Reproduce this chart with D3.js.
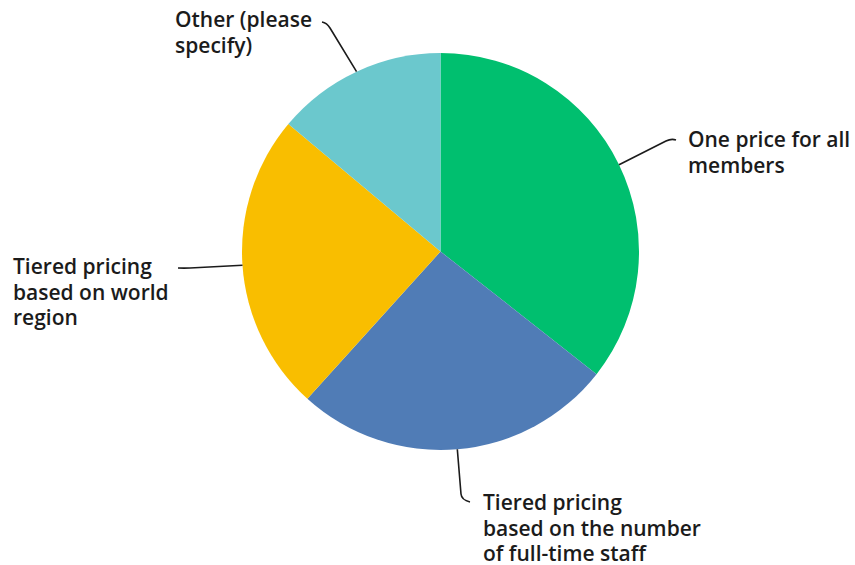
<!DOCTYPE html>
<html>
<head>
<meta charset="utf-8">
<script src="https://cdn.jsdelivr.net/npm/d3@7"></script>
<style>
  html, body { margin: 0; padding: 0; background: #fff; }
  svg { display: block; }
  text { font-family: "Open Sans", sans-serif; font-weight: 600; font-size: 21px; fill: #1b1b1b; }
</style>
</head>
<body>
<svg id="chart" width="855" height="565"></svg>
<script>
// Answer categories, in clockwise order from 12 o'clock
const categories = [
  "One price for all members",
  "Tiered pricing based on the number of full-time staff",
  "Tiered pricing based on world region",
  "Other (please specify)"
];
// Share of responses (%)
const values = [35.6, 26.1, 24.4, 13.9];
// Wrapped label lines for each slice
const labelLines = [
  ["One price for all", "members"],
  ["Tiered pricing", "based on the number", "of full-time staff"],
  ["Tiered pricing", "based on world", "region"],
  ["Other (please", "specify)"]
];
const colors = ["#00BF6F", "#507CB6", "#F9BE00", "#6BC8CD"];

const svg = d3.select("#chart");
const cx = 440.5, cy = 251.5, r = 198.5;
const g = svg.append("g").attr("transform", `translate(${cx},${cy})`);

const pie = d3.pie().sort(null).value(d => d.value);
const arcs = pie(categories.map((c, i) => ({ name: c, value: values[i], i })));
const arc = d3.arc().innerRadius(0).outerRadius(r);

g.selectAll("path.slice")
  .data(arcs)
  .join("path")
  .attr("class", "slice")
  .attr("d", arc)
  .attr("fill", d => colors[d.data.i]);

// Label placement: text anchor point (first baseline) and leader bend geometry
const labelLayout = [
  { x: 688, y: 147, bend: [666, 141], end: [676, 140] },
  { x: 483, y: 510, bend: [461, 494], end: [470, 502] },
  { x: 13,  y: 274, bend: [190, 268], end: [178, 268] },
  { x: 175, y: 27,  bend: [330, 28],  end: [322, 22] }
];

arcs.forEach((d, k) => {
  const L = labelLayout[k];
  const mid = (d.startAngle + d.endAngle) / 2;
  const sx = cx + r * Math.sin(mid), sy = cy - r * Math.cos(mid);
  const [bx, by] = L.bend, [ex, ey] = L.end;
  // control point sits a little past the bend, along the incoming direction
  const dx = bx - sx, dy = by - sy, len = Math.hypot(dx, dy);
  const ctrl = [bx + dx / len * 6, by + dy / len * 6];
  const p = d3.path();
  p.moveTo(sx, sy);
  p.lineTo(bx, by);
  p.quadraticCurveTo(ctrl[0], ctrl[1], ex, ey);
  svg.append("path")
    .attr("d", p.toString())
    .attr("fill", "none")
    .attr("stroke", "#1b1b1b")
    .attr("stroke-width", 1.6);

  const t = svg.append("text").attr("x", L.x).attr("y", L.y);
  labelLines[k].forEach((line, j) => {
    t.append("tspan").attr("x", L.x).attr("dy", j === 0 ? 0 : 25.7).text(line);
  });
});
</script>
</body>
</html>
